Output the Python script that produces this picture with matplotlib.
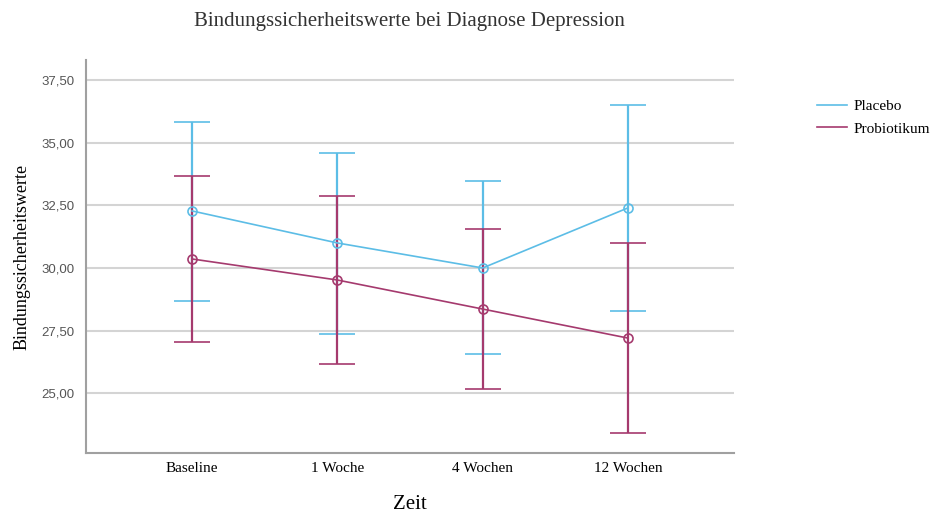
import matplotlib.pyplot as plt
import numpy as np
from matplotlib.lines import Line2D

# Mittelwerte und 95%-KI je Messzeitpunkt
zeitpunkte = ['Baseline', '1 Woche', '4 Wochen', '12 Wochen']

placebo_mean = [32.28, 31.00, 30.00, 32.40]
placebo_upper = [35.83, 34.59, 33.47, 36.51]
placebo_lower = [28.68, 27.36, 26.57, 28.28]

probio_mean = [30.36, 29.52, 28.36, 27.20]
probio_upper = [33.67, 32.88, 31.56, 31.00]
probio_lower = [27.04, 26.17, 25.17, 23.41]

yticks = [25.0, 27.5, 30.0, 32.5, 35.0, 37.5]

c_placebo = '#5cbde6'
c_probio = '#a53a6e'
serif = ['Liberation Serif', 'DejaVu Serif']

fig = plt.figure(figsize=(9.35, 5.15), dpi=100)
ax = fig.add_axes([0.092, 0.120, 0.693, 0.763])

x = np.arange(len(zeitpunkte))

for mean, lo, hi, col, name in [
    (placebo_mean, placebo_lower, placebo_upper, c_placebo, 'Placebo'),
    (probio_mean, probio_lower, probio_upper, c_probio, 'Probiotikum'),
]:
    mean = np.array(mean)
    yerr = [mean - np.array(lo), np.array(hi) - mean]
    ax.errorbar(x, mean, yerr=yerr, color=col, linewidth=1.2, elinewidth=1.6,
                capsize=13, capthick=1.6, marker='o', markersize=6.5,
                markerfacecolor='none', markeredgewidth=1.2, label=name, zorder=3)

ax.set_xlim(-0.73, 3.73)
ax.set_ylim(22.6, 38.3)
ax.set_xticks(x)
ax.set_xticklabels(zeitpunkte, fontfamily=serif, fontsize=11)
ax.set_yticks(yticks)
ax.set_yticklabels([f'{v:.2f}'.replace('.', ',') for v in yticks],
                   fontfamily=['Liberation Sans', 'DejaVu Sans'], fontsize=9.5,
                   color='#555555')
ax.tick_params(axis='x', length=0, pad=6)
ax.tick_params(axis='y', length=0, pad=8)

ax.grid(axis='y', color='#d4d4d4', linewidth=1.5, zorder=0)
ax.set_axisbelow(True)
for s in ['top', 'right']:
    ax.spines[s].set_visible(False)
for s in ['left', 'bottom']:
    ax.spines[s].set_color('#a0a0a0')
    ax.spines[s].set_linewidth(1.5)

ax.set_xlabel('Zeit', fontfamily=serif, fontsize=15, labelpad=15)
ax.set_ylabel('Bindungssicherheitswerte', fontfamily=serif, fontsize=13, labelpad=8)
fig.text(0.438, 0.958, 'Bindungssicherheitswerte bei Diagnose Depression',
         fontfamily=serif, fontsize=15, ha='center', va='center', color='#333333')

# Legende nur mit Linien
handles = [Line2D([], [], color=c_placebo, linewidth=1.2),
           Line2D([], [], color=c_probio, linewidth=1.2)]
fig.legend(handles, ['Placebo', 'Probiotikum'], loc='upper left',
           bbox_to_anchor=(0.862, 0.828), frameon=False, handlelength=2.0,
           handletextpad=0.4, labelspacing=0.6, borderpad=0.2,
           prop={'family': serif, 'size': 11})

fig.savefig('out.png', dpi=100)
